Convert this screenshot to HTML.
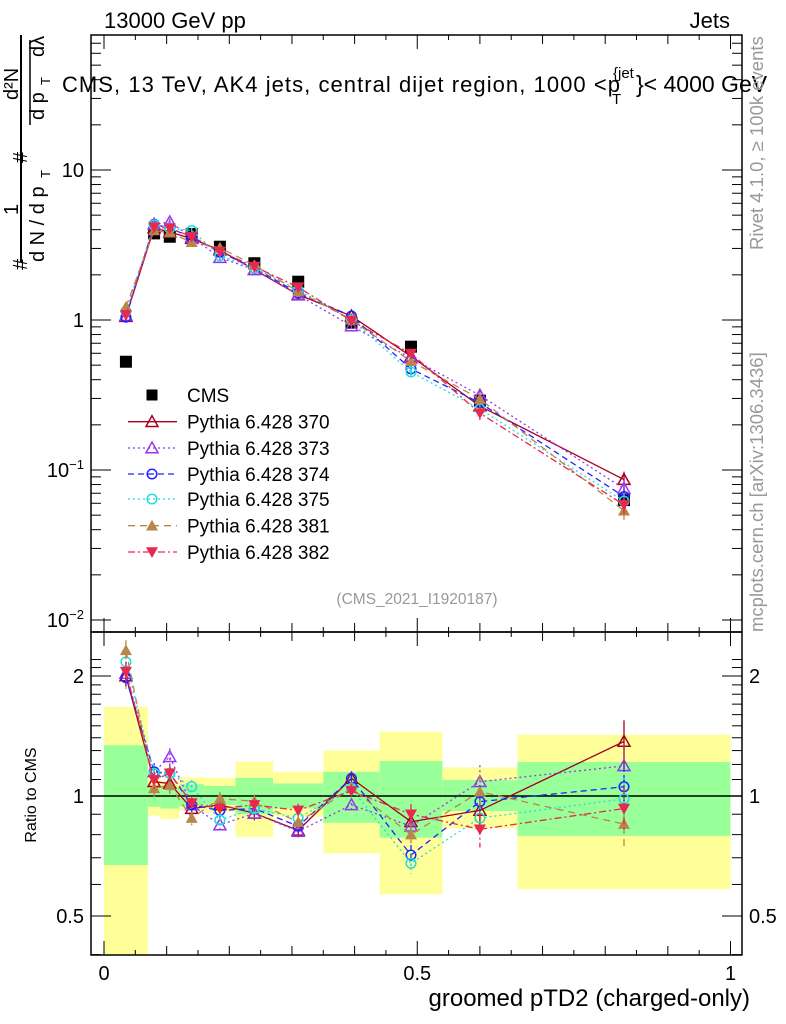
<!DOCTYPE html>
<html><head><meta charset="utf-8"><style>
body{margin:0;background:#fff;}
svg{display:block;font-family:"Liberation Sans",Arial,sans-serif;}
</style></head><body>
<svg id="c" width="786" height="1024" xmlns="http://www.w3.org/2000/svg">
<text x="104" y="28" font-size="22">13000 GeV pp</text>
<text x="730" y="28" font-size="22" text-anchor="end">Jets</text>
<text x="62" y="92" font-size="22" textLength="558">CMS, 13 TeV, AK4 jets, central dijet region, 1000 &lt;p</text>
<text x="613" y="78" font-size="15">{jet</text>
<text x="612" y="104" font-size="15">T</text>
<text x="636" y="92" font-size="23">}&lt; 4000 GeV</text>
<g font-size="20">
<line x1="21" y1="35" x2="21" y2="262" stroke="#000" stroke-width="2"/>
<text transform="translate(27,270) rotate(-90)">#</text>
<text transform="translate(18,215) rotate(-90)">1</text>
<text transform="translate(44,262) rotate(-90)">d N / d p</text>
<text transform="translate(50,178) rotate(-90)" font-size="13">T</text>
<text transform="translate(27,163) rotate(-90)">#</text>
<line x1="30" y1="125" x2="30" y2="40" stroke="#000" stroke-width="1.5"/>
<text transform="translate(44,120) rotate(-90)">d p</text>
<text transform="translate(50,85) rotate(-90)" font-size="13">T</text>
<text transform="translate(44,57) rotate(-90)">d&#955;</text>
<text transform="translate(18,100) rotate(-90)">d²N</text>
</g>
<text transform="translate(763,250) rotate(-90)" font-size="18.5" fill="#999">Rivet 4.1.0, ≥ 100k events</text>
<text transform="translate(763,632) rotate(-90)" font-size="18.5" fill="#999">mcplots.cern.ch [arXiv:1306.3436]</text>
<text x="417" y="604" font-size="15.5" fill="#999" text-anchor="middle">(CMS_2021_I1920187)</text>
<text transform="translate(36,795) rotate(-90)" font-size="16" text-anchor="middle">Ratio to CMS</text>
<text x="750" y="1006" font-size="24" text-anchor="end">groomed pTD2 (charged-only)</text>
<g id="g"></g>
</svg>
<script>
const binEdges=[0,0.07,0.09,0.12,0.16,0.21,0.27,0.35,0.44,0.54,0.66,1.0];
const xCenters=[0.035,0.08,0.105,0.14,0.185,0.24,0.31,0.395,0.49,0.6,0.83];
const cmsValues=[0.527,3.78,3.59,3.75,3.08,2.39,1.80,0.96,0.664,0.29,0.063];
const bandYellowHi=[1.675,1.11,1.09,1.114,1.11,1.22,1.15,1.30,1.45,1.18,1.425];
const bandGreenHi=[1.34,1.06,1.05,1.07,1.06,1.11,1.075,1.15,1.224,1.097,1.217];
const bandGreenLo=[0.671,0.94,0.93,0.94,0.95,0.90,0.93,0.857,0.786,0.917,0.794];
const bandYellowLo=[0.3,0.893,0.876,0.92,0.91,0.79,0.887,0.718,0.567,0.83,0.584];
const ratio370=[2.0,1.086,1.075,0.93,0.95,0.905,0.82,1.107,0.862,0.92,1.37];
const ratio373=[2.03,1.15,1.255,0.95,0.846,0.905,0.815,0.95,0.84,1.086,1.19];
const ratio374=[1.98,1.15,1.14,0.95,0.92,0.93,0.84,1.107,0.711,0.968,1.055];
const ratio375=[2.17,1.14,1.14,1.055,0.87,0.93,0.88,1.045,0.678,0.88,0.983];
const ratio381=[2.32,1.045,1.065,0.88,0.985,0.97,0.86,1.045,0.8,1.025,0.85];
const ratio382=[2.05,1.097,1.14,0.96,0.93,0.95,0.92,1.03,0.9,0.825,0.93];
const relErr=[0.06,0.05,0.05,0.04,0.04,0.04,0.04,0.04,0.06,0.1,0.13];
const mainTickLabels=["10","1","10","10"];
const mainTickVals=[10,1,0.1,0.01];
const ratioTickVals=[2,1,0.5];
const ratioTickLabels=["2","1","0.5"];
const xTickVals=[0,0.5,1];
const xTickLabels=["0","0.5","1"];
const seriesNames=["Pythia 6.428 370","Pythia 6.428 373","Pythia 6.428 374","Pythia 6.428 375","Pythia 6.428 381","Pythia 6.428 382"];

const NS="http://www.w3.org/2000/svg";
const G=document.getElementById('g');
const X0=91,X1=742,MT=35,MB=632,RT=632,RB=955;
const xs=v=>104+(v)*626.5;
const ym=v=>320-150*Math.log10(v);
const yr=r=>796-120*Math.log2(r);
function mk(tag,attrs,parent){const e=document.createElementNS(NS,tag);for(const k in attrs)e.setAttribute(k,attrs[k]);(parent||G).appendChild(e);return e;}

for(let i=0;i<11;i++){
 const a=xs(binEdges[i]),b=xs(binEdges[i+1]);
 const y1=mk('rect',{x:a,y:yr(bandYellowHi[i]),width:b-a,height:Math.min(RB,yr(bandYellowLo[i]))-yr(bandYellowHi[i]),fill:'#ffff99'});
 
 
 const g1=mk('rect',{x:a,y:yr(bandGreenHi[i]),width:b-a,height:yr(bandGreenLo[i])-yr(bandGreenHi[i]),fill:'#99ff99'});
 
 
}
const one=mk('line',{x1:X0,x2:X1,y1:yr(1),y2:yr(1),stroke:'#000','stroke-width':1.5});



const f1=mk('rect',{x:X0,y:MT,width:X1-X0,height:MB-MT,fill:'none',stroke:'#000','stroke-width':1.5});


const f2=mk('rect',{x:X0,y:RT,width:X1-X0,height:RB-RT,fill:'none',stroke:'#000','stroke-width':1.5});



for(let k=0;k<=20;k++){const v=k*0.05,x=xs(v);const L=(k%10==0)?14:(k%2==0?9:5);
 for(const [yb,dir] of [[MB,-1],[MT,1],[RB,-1],[RT,1]]){mk('line',{x1:x,x2:x,y1:yb,y2:yb+dir*L,stroke:'#000'});}}
xTickVals.forEach((v,i)=>{const t=mk('text',{x:xs(v),y:980,'font-size':20,'text-anchor':'middle'});t.textContent=xTickLabels[i];
 
 });
for(let d=-2;d<=1;d++){for(let m=1;m<=9;m++){const v=m*Math.pow(10,d),y=ym(v);if(y<MT||y>MB)continue;const L=m==1?20:10;
 mk('line',{x1:X0,x2:X0+L,y1:y,y2:y,stroke:'#000'});mk('line',{x1:X1,x2:X1-L,y1:y,y2:y,stroke:'#000'});}}
mainTickVals.forEach((v,i)=>{const t=mk('text',{x:84,y:ym(v)+7,'font-size':20,'text-anchor':'end'});
 t.textContent=mainTickLabels[i];
 if(v<1){const s=mk('tspan',{'font-size':13,dy:-8},t);s.textContent=v==0.1?'−1':'−2';}
 
 });
for(let r=0.4;r<=2.3;r+=0.1){const y=yr(r);if(y<RT||y>RB)continue;const maj=Math.abs(r-1)<1e-6||Math.abs(r-2)<1e-6||Math.abs(r-0.5)<1e-6;const L=maj?20:10;
 mk('line',{x1:X0,x2:X0+L,y1:y,y2:y,stroke:'#000'});mk('line',{x1:X1,x2:X1-L,y1:y,y2:y,stroke:'#000'});}
ratioTickVals.forEach((v,i)=>{for(const [x,a] of [[84,'end'],[749,'start']]){const t=mk('text',{x:x,y:yr(v)+7,'font-size':20,'text-anchor':a});t.textContent=ratioTickLabels[i];
 
 }});

xCenters.forEach((x,i)=>{const r=mk('rect',{x:xs(x)-6,y:ym(cmsValues[i])-6,width:12,height:12,fill:'#000'});
 
 });

const ratios=[ratio370,ratio373,ratio374,ratio375,ratio381,ratio382];
const colors=['#a50021','#9933ee','#2222ff','#22dddd','#b8864b','#e8284f'];
const dashes=['none','2,3','6,4','2,3','7,5','7,3,2,3'];
const markers=['tri-open','tri-open','circ-open','circ-open','tri','tri-down'];
function marker(type,x,y,c,s,parent){
 if(type=='tri-open')return mk('path',{d:`M${x},${y-s} L${x+s},${y+s*0.8} L${x-s},${y+s*0.8}Z`,fill:'none',stroke:c,'stroke-width':1.5},parent);
 if(type=='tri')return mk('path',{d:`M${x},${y-s} L${x+s},${y+s*0.8} L${x-s},${y+s*0.8}Z`,fill:c},parent);
 if(type=='tri-down')return mk('path',{d:`M${x},${y+s} L${x+s},${y-s*0.8} L${x-s},${y-s*0.8}Z`,fill:c},parent);
 return mk('circle',{cx:x,cy:y,r:s*0.8,fill:'none',stroke:c,'stroke-width':1.5},parent);
}
ratios.forEach((rs,si)=>{
 const c=colors[si];
 const g=mk('g',{});
 
 
 const mp=xCenters.map((x,i)=>`${xs(x)},${ym(cmsValues[i]*rs[i])}`).join(' ');
 const rp=xCenters.map((x,i)=>`${xs(x)},${yr(rs[i])}`).join(' ');
 mk('polyline',{points:mp,fill:'none',stroke:c,'stroke-width':1.3,'stroke-dasharray':dashes[si]},g);
 mk('polyline',{points:rp,fill:'none',stroke:c,'stroke-width':1.3,'stroke-dasharray':dashes[si]},g);
 xCenters.forEach((x,i)=>{
  const px=xs(x),r=rs[i],e=relErr[i];
  mk('line',{x1:px,x2:px,y1:yr(r*(1+e)),y2:yr(r*(1-e)),stroke:c,'stroke-width':1.3,'stroke-dasharray':dashes[si]},g);
  const my=ym(cmsValues[i]*r);
  mk('line',{x1:px,x2:px,y1:ym(cmsValues[i]*r*(1+e)),y2:ym(cmsValues[i]*r*(1-e)),stroke:c,'stroke-width':1.3},g);
  const m1=marker(markers[si],px,my,c,6,g);
  
  
  const m2=marker(markers[si],px,yr(r),c,6,g);
  
  
 });
});
const legY=[395,421.7,448,474,499,525.7,552];
const lc=mk('rect',{x:146.5,y:legY[0]-5.5,width:11,height:11,fill:'#000'});


const lt=mk('text',{x:187,y:legY[0]+7,'font-size':19});lt.textContent='CMS';


seriesNames.forEach((n,si)=>{const y=legY[si+1];
 const g=mk('g',{});
 
 
 mk('line',{x1:128,x2:177,y1:y,y2:y,stroke:colors[si],'stroke-width':1.3,'stroke-dasharray':dashes[si]},g);
 marker(markers[si],152,y,colors[si],6,g);
 const t=mk('text',{x:187,y:y+7,'font-size':19},g);t.textContent=n;});
</script>
</body></html>
